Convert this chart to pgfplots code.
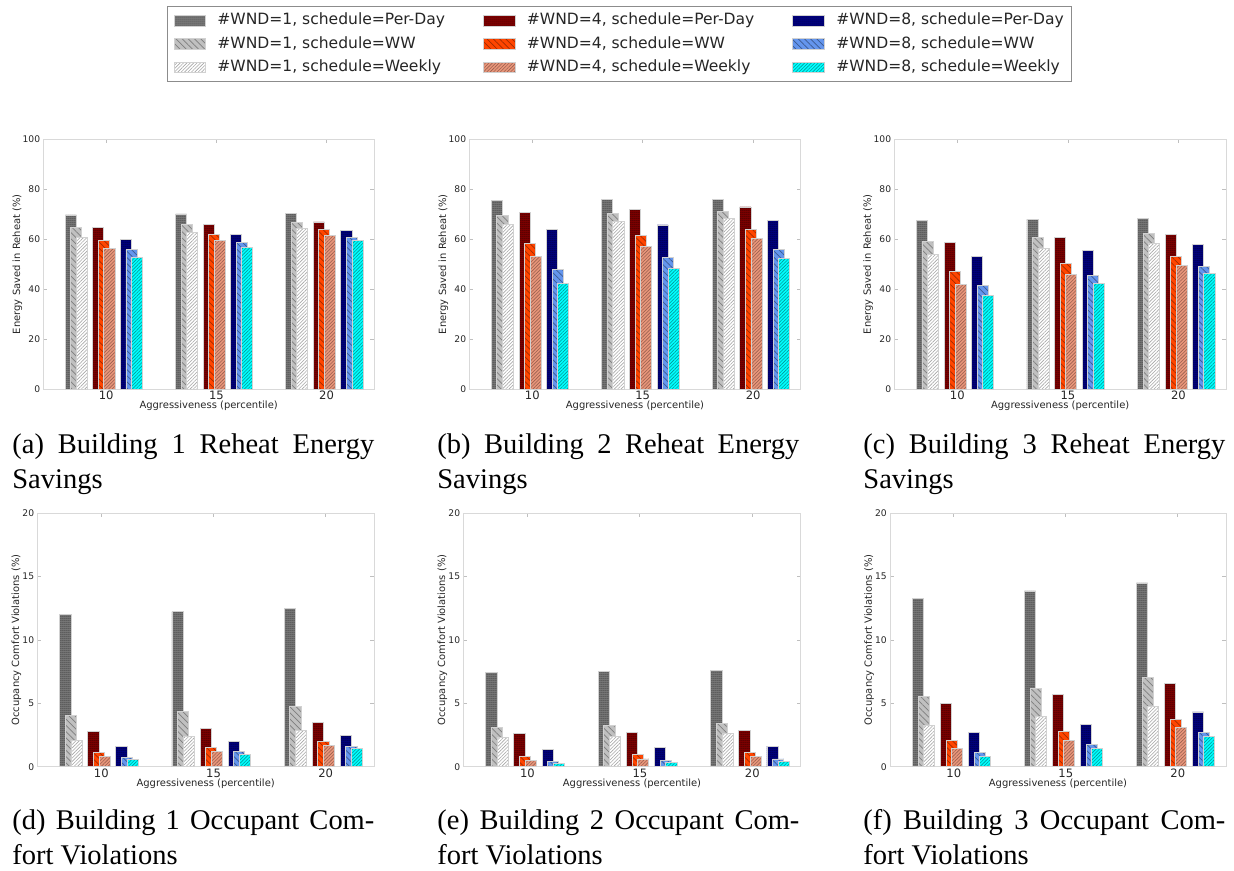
\documentclass[border=0pt]{standalone}
\usepackage{fontspec}
\setmainfont{Liberation Serif}
\newfontfamily\dejavu{DejaVu Sans}
\usepackage{pgfplots}
\pgfplotsset{compat=1.18}
\usepackage{pgfplotstable}
\usetikzlibrary{patterns,patterns.meta}

\definecolor{cPDa}{HTML}{7A7A7A}\definecolor{pPDa}{HTML}{4E4E4E}
\definecolor{cWWa}{HTML}{C0C0C0}\definecolor{pWWa}{HTML}{7E7E7E}
\definecolor{cWKa}{HTML}{FFFFFF}\definecolor{pWKa}{HTML}{A8A8A8}
\definecolor{cPDb}{HTML}{800000}\definecolor{pPDb}{HTML}{4A0000}
\definecolor{cWWb}{HTML}{FF4500}\definecolor{pWWb}{HTML}{A02C00}
\definecolor{cWKb}{HTML}{E9967A}\definecolor{pWKb}{HTML}{9A6050}
\definecolor{cPDc}{HTML}{000080}\definecolor{pPDc}{HTML}{00004A}
\definecolor{cWWc}{HTML}{6495ED}\definecolor{pWWc}{HTML}{3C5A90}
\definecolor{cWKc}{HTML}{00FFFF}\definecolor{pWKc}{HTML}{009A9A}

\tikzset{
 bedge/.style={draw=black!18, line width=0.45bp},
 pdpat/.style={postaction={pattern={Lines[angle=0,distance=1.1bp,line width=0.45bp]}, pattern color=#1}},
 wwpat/.style={postaction={pattern={Lines[angle=-45,distance=2.2bp,line width=0.35bp]}, pattern color=#1}},
 wkpat/.style={postaction={pattern={Lines[angle=45,distance=1.2bp,line width=0.3bp]}, pattern color=#1}},
 pd1/.style={fill=cPDa, bedge, pdpat=pPDa},
 ww1/.style={fill=cWWa, bedge, wwpat=pWWa},
 wk1/.style={fill=cWKa, bedge, wkpat=pWKa},
 pd4/.style={fill=cPDb, bedge, pdpat=pPDb},
 ww4/.style={fill=cWWb, bedge, wwpat=pWWb},
 wk4/.style={fill=cWKb, bedge, wkpat=pWKb},
 pd8/.style={fill=cPDc, bedge, pdpat=pPDc},
 ww8/.style={fill=cWWc, bedge, wwpat=pWWc},
 wk8/.style={fill=cWKc, bedge, wkpat=pWKc},
 capnode/.style={anchor=base west, text width=181bp, align=justify, inner sep=0pt, font=\capfont},
}

\newcommand{\axfont}{\dejavu\fontsize{5}{6}\selectfont}
\newcommand{\ytkfont}{\dejavu\fontsize{4.6}{5.5}\selectfont}
\newcommand{\xtkfont}{\dejavu\fontsize{5.8}{7}\selectfont}
\newcommand{\legfont}{\dejavu\fontsize{7.8}{9}\selectfont}
\newcommand{\capfont}{\fontsize{14.3}{18}\selectfont}

\pgfplotsset{
 panel/.style={
  scale only axis, anchor=north west, ybar, bar width=0.1,
  xmin=-0.57, xmax=2.43, ymin=0,
  xtick={0,1,2}, xticklabels={10,15,20},
  axis line style={black!15}, tick style={black!25, line width=0.4bp},
  major tick length=2bp, tick align=inside,
  /pgf/number format/assume math mode=true,
  xticklabel style={font=\xtkfont, text=black!85, anchor=center, inner sep=0pt, yshift=-3.1bp},
  yticklabel style={font=\ytkfont, text=black!85, anchor=east, inner sep=0pt, xshift=-1.4bp},
  xlabel={Aggressiveness (percentile)},
  every axis x label/.style={at={(axis description cs:0.5,-0.068)}, anchor=center, font=\axfont, text=black!85},
 },
 toprow/.style={ymax=100, ytick={0,20,...,100}, ylabel={Energy Saved in Reheat (\%)},
  every axis y label/.style={at={(axis description cs:-0.0786,0.5)}, anchor=center, rotate=90, font=\axfont, text=black!85}},
 botrow/.style={ymax=20, ytick={0,5,...,20}, ylabel={Occupancy Comfort Violations (\%)},
  every axis y label/.style={at={(axis description cs:-0.0624,0.5)}, anchor=center, rotate=90, font=\axfont, text=black!85}},
}

\newcommand{\allbars}[1]{%
 \addplot[pd1, bar shift=-0.32] table[x=x,y=pd1]{#1};
 \addplot[ww1, bar shift=-0.27] table[x=x,y=ww1]{#1};
 \addplot[wk1, bar shift=-0.22] table[x=x,y=wk1]{#1};
 \addplot[pd4, bar shift=-0.07] table[x=x,y=pd4]{#1};
 \addplot[ww4, bar shift=-0.02] table[x=x,y=ww4]{#1};
 \addplot[wk4, bar shift=0.03] table[x=x,y=wk4]{#1};
 \addplot[pd8, bar shift=0.18] table[x=x,y=pd8]{#1};
 \addplot[ww8, bar shift=0.23] table[x=x,y=ww8]{#1};
 \addplot[wk8, bar shift=0.28] table[x=x,y=wk8]{#1};
}

\pgfplotstableread{
x pd1 ww1 wk1 pd4 ww4 wk4 pd8 ww8 wk8
0 69.7 64.8 60.7 64.6 59.3 56.1 59.7 55.7 52.7
1 70.1 65.8 62.8 65.8 61.7 59.3 61.7 58.5 56.5
2 70.4 66.8 64.4 66.9 64.0 61.5 63.6 60.7 59.3
}\tA
\pgfplotstableread{
x pd1 ww1 wk1 pd4 ww4 wk4 pd8 ww8 wk8
0 75.6 69.6 66.0 70.8 58.3 53.0 63.7 47.7 42.2
1 76.0 70.4 67.2 72.0 61.3 57.0 65.7 52.7 48.2
2 76.0 71.2 68.4 72.9 64.0 60.3 67.6 55.9 52.3
}\tB
\pgfplotstableread{
x pd1 ww1 wk1 pd4 ww4 wk4 pd8 ww8 wk8
0 67.6 58.9 53.7 58.7 46.9 41.9 53.2 41.5 37.6
1 68.0 60.7 56.1 60.5 50.1 45.7 55.6 45.5 42.1
2 68.4 62.1 58.1 62.0 53.1 49.5 57.9 49.1 46.3
}\tC
\pgfplotstableread{
x pd1 ww1 wk1 pd4 ww4 wk4 pd8 ww8 wk8
0 12.03 4.05 2.08 2.76 1.16 0.79 1.58 0.74 0.58
1 12.24 4.37 2.42 3.05 1.55 1.18 1.97 1.21 1.00
2 12.47 4.76 2.87 3.47 2.00 1.66 2.50 1.63 1.47
}\tD
\pgfplotstableread{
x pd1 ww1 wk1 pd4 ww4 wk4 pd8 ww8 wk8
0 7.47 3.10 2.32 2.63 0.82 0.50 1.37 0.42 0.24
1 7.55 3.26 2.42 2.71 0.95 0.61 1.50 0.50 0.32
2 7.63 3.42 2.63 2.84 1.10 0.79 1.63 0.61 0.42
}\tE
\pgfplotstableread{
x pd1 ww1 wk1 pd4 ww4 wk4 pd8 ww8 wk8
0 13.29 5.55 3.24 5.00 2.10 1.45 2.68 1.13 0.82
1 13.87 6.18 3.95 5.68 2.79 2.10 3.37 1.76 1.42
2 14.50 7.03 4.79 6.55 3.74 3.10 4.32 2.71 2.37
}\tF

\begin{document}
\begin{tikzpicture}
\useasboundingbox (0,0) rectangle (617bp,-435.5bp);

% top row
\begin{axis}[panel, toprow, at={(21.65bp,-69.65bp)}, width=165.35bp, height=124.85bp]
\allbars{\tA}
\end{axis}
\begin{axis}[panel, toprow, at={(234.65bp,-69.65bp)}, width=165.7bp, height=124.85bp,
  legend image code/.code={\draw[#1] (0bp,-2.65bp) rectangle (15.8bp,2.65bp);},
  transpose legend, legend columns=3, legend cell align=left,
  legend style={at={(axis description cs:-0.912,1.534)}, anchor=north west,
    draw=black!45, line width=0.5bp, fill=white, font=\legfont, text=black!85,
    inner xsep=3bp, inner ysep=2.6bp, row sep=2.6bp,
    /tikz/every odd column/.append style={column sep=4.7bp},
    /tikz/every even column/.append style={column sep=18bp},
    nodes={inner sep=1bp, text height=5.6bp, text depth=1.5bp}}]
\allbars{\tB}
\legend{{\#WND=1, schedule=Per-Day},{\#WND=1, schedule=WW},{\#WND=1, schedule=Weekly},
{\#WND=4, schedule=Per-Day},{\#WND=4, schedule=WW},{\#WND=4, schedule=Weekly},
{\#WND=8, schedule=Per-Day},{\#WND=8, schedule=WW},{\#WND=8, schedule=Weekly}}
\end{axis}
\begin{axis}[panel, toprow, at={(447.15bp,-69.65bp)}, width=165.85bp, height=124.85bp]
\allbars{\tC}
\end{axis}

% bottom row
\begin{axis}[panel, botrow, at={(18.65bp,-256.65bp)}, width=168.35bp, height=126.7bp]
\allbars{\tD}
\end{axis}
\begin{axis}[panel, botrow, at={(231.65bp,-256.65bp)}, width=168.7bp, height=126.7bp]
\allbars{\tE}
\end{axis}
\begin{axis}[panel, botrow, at={(445bp,-256.65bp)}, width=168bp, height=126.7bp]
\allbars{\tF}
\end{axis}

% captions
\node[capnode] at (6bp,-226.5bp) {(a) Building 1 Reheat Energy\linebreak Savings};
\node[capnode] at (218.5bp,-226.5bp) {(b) Building 2 Reheat Energy\linebreak Savings};
\node[capnode] at (431.5bp,-226.5bp) {(c) Building 3 Reheat Energy\linebreak Savings};
\node[capnode] at (6bp,-414.5bp) {(d) Building 1 Occupant Com-\linebreak fort Violations};
\node[capnode] at (218.5bp,-414.5bp) {(e) Building 2 Occupant Com-\linebreak fort Violations};
\node[capnode] at (431.5bp,-414.5bp) {(f) Building 3 Occupant Com-\linebreak fort Violations};
\end{tikzpicture}
\end{document}
